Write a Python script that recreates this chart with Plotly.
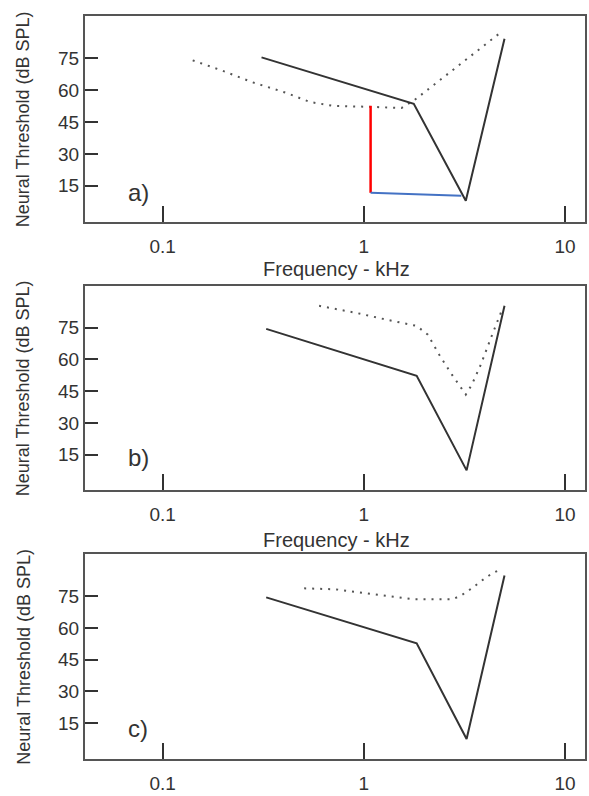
import plotly.graph_objects as go
from plotly.subplots import make_subplots

# ---- data (frequency in kHz, threshold in dB SPL) ----
a_solid_f = [0.31, 1.77, 3.21, 5.0]
a_solid_db = [75.5, 53.6, 8.0, 84.3]
a_dot_f = [0.141, 0.196, 0.279, 0.414, 0.539, 0.701, 1.06, 1.54, 1.79, 4.90]
a_dot_db = [74.1, 69.4, 63.8, 58.7, 54.5, 52.7, 52.2, 51.7, 55.5, 88.0]
a_red_f = [1.08, 1.08]
a_red_db = [52.7, 11.7]
a_blue_f = [1.08, 3.05]
a_blue_db = [11.7, 10.3]

b_solid_f = [0.327, 1.83, 3.24, 5.0]
b_solid_db = [74.5, 52.3, 7.5, 85.4]
b_dot_f = [0.599, 0.912, 1.30, 1.83, 2.08, 2.37, 2.74, 3.21, 3.44, 3.81, 4.34, 4.90]
b_dot_db = [85.4, 82.1, 78.8, 75.9, 71.7, 62.2, 52.8, 43.4, 48.1, 57.5, 71.7, 84.4]

c_solid_f = [0.327, 1.83, 3.24, 5.0]
c_solid_db = [74.5, 52.8, 7.5, 84.9]
c_dot_f = [0.505, 0.729, 1.03, 1.35, 1.76, 2.23, 2.76, 3.05, 3.44, 3.81, 4.34, 4.80]
c_dot_db = [78.8, 78.3, 76.4, 75.0, 73.6, 73.6, 73.6, 75.5, 78.8, 82.1, 85.9, 87.8]

x_tickvals = [0.1, 1, 10]
x_ticktext = ["0.1", "1", "10"]
y_tickvals = [15, 30, 45, 60, 75]
panel_labels = ["a)", "b)", "c)"]
y_title = "Neural Threshold (dB SPL)"
x_title = "Frequency - kHz"

FONT = "Liberation Sans, Arial, sans-serif"
DARK = "#333333"
FRAME = "#555555"

fig = make_subplots(rows=3, cols=1)

solid_style = dict(color=DARK, width=2)
dot_style = dict(color="#555555", width=2, dash="2px,6px")

panels = [
    (a_solid_f, a_solid_db, a_dot_f, a_dot_db),
    (b_solid_f, b_solid_db, b_dot_f, b_dot_db),
    (c_solid_f, c_solid_db, c_dot_f, c_dot_db),
]
for i, (sf, sd, df, dd) in enumerate(panels, start=1):
    fig.add_trace(go.Scatter(x=df, y=dd, mode="lines", line=dot_style,
                             showlegend=False), row=i, col=1)
    fig.add_trace(go.Scatter(x=sf, y=sd, mode="lines", line=solid_style,
                             showlegend=False), row=i, col=1)

fig.add_trace(go.Scatter(x=a_red_f, y=a_red_db, mode="lines",
                         line=dict(color="#ff0000", width=2.5), showlegend=False),
              row=1, col=1)
fig.add_trace(go.Scatter(x=a_blue_f, y=a_blue_db, mode="lines",
                         line=dict(color="#4472c4", width=2), showlegend=False),
              row=1, col=1)

# layout geometry (plot area pixels: x 85..587; panels y 16..223, 287..493, 557..763)
W, H = 589, 796
ml, mr, mt, mb = 85, 2, 16, 33
ph = H - mt - mb
def py(pix):
    return (H - mb - pix) / ph

domains = [(py(223), py(16)), (py(493), py(287)), (py(763), py(557))]
xr = [-1.386, 1.099]

layout = dict(
    width=W, height=H,
    margin=dict(l=ml, r=mr, t=mt, b=mb),
    paper_bgcolor="white", plot_bgcolor="white",
    font=dict(family=FONT, color=DARK, size=17),
    showlegend=False,
)
fig.update_layout(**layout)

for i in range(3):
    xa = "xaxis" if i == 0 else f"xaxis{i+1}"
    ya = "yaxis" if i == 0 else f"yaxis{i+1}"
    fig.update_layout(**{
        xa: dict(type="log", range=xr, tickvals=x_tickvals, ticktext=x_ticktext,
                 ticks="inside", ticklen=16, tickwidth=2, tickcolor=DARK,
                 showline=True, mirror=True, linecolor=FRAME, linewidth=2,
                 showgrid=False, zeroline=False, ticklabelstandoff=6,
                 tickfont=dict(size=19, family=FONT, color=DARK)),
        ya: dict(range=[-2, 95], tickvals=y_tickvals, domain=list(domains[i]),
                 ticks="inside", ticklen=13, tickwidth=2, tickcolor=DARK,
                 showline=True, mirror=True, linecolor=FRAME, linewidth=2,
                 showgrid=False, zeroline=False,
                 tickfont=dict(size=19, family=FONT, color=DARK)),
    })

annotations = []
centers = [(16 + 223) / 2, (287 + 493) / 2, (557 + 763) / 2]
label_y = [193, 460, 732]
for i in range(3):
    annotations.append(dict(text=y_title, textangle=-90, xref="paper", yref="paper",
                            x=(23 - ml) / (W - ml - mr), y=py(centers[i]),
                            xanchor="center", yanchor="middle", showarrow=False,
                            font=dict(size=18, family=FONT, color=DARK)))
    annotations.append(dict(text=panel_labels[i], xref="paper", yref="paper",
                            x=(126 - ml) / (W - ml - mr), y=py(label_y[i]),
                            xanchor="left", yanchor="middle", showarrow=False,
                            font=dict(size=24, family=FONT, color=DARK)))
for ypix in [270, 543]:
    annotations.append(dict(text=x_title, xref="paper", yref="paper",
                            x=(338 - ml) / (W - ml - mr), y=py(ypix),
                            xanchor="center", yanchor="middle", showarrow=False,
                            font=dict(size=20, family=FONT, color=DARK)))
fig.update_layout(annotations=annotations)

fig.write_html("out.html")
